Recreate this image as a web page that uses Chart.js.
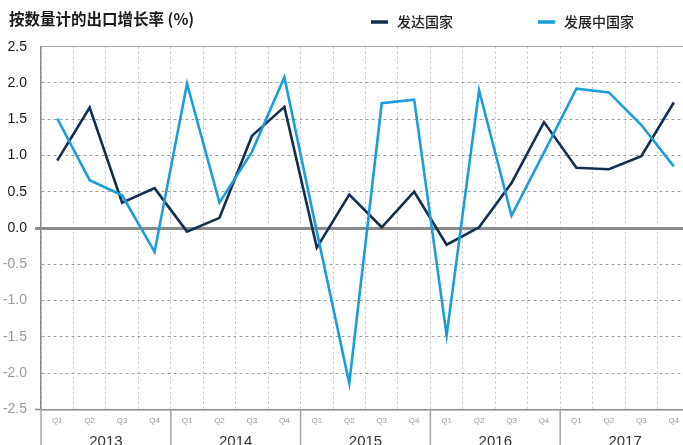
<!DOCTYPE html>
<html>
<head>
<meta charset="utf-8">
<script src="https://cdn.jsdelivr.net/npm/chart.js@4.4.0/dist/chart.umd.min.js"></script>
<style>
  html, body { margin: 0; padding: 0; background: #ffffff; overflow: hidden; }
  #wrap { width: 683px; height: 445px; overflow: hidden; position: relative; }
  canvas { display: block; }
</style>
</head>
<body>
<div id="wrap"><canvas id="c" width="690" height="445"></canvas></div>
<script>
const titleText = '按数量计的出口增长率 (%)';
const years = ['2013', '2014', '2015', '2016', '2017'];
const quarterNames = ['Q1', 'Q2', 'Q3', 'Q4'];
const quarterLabels = [
  'Q1','Q2','Q3','Q4', 'Q1','Q2','Q3','Q4', 'Q1','Q2','Q3','Q4',
  'Q1','Q2','Q3','Q4', 'Q1','Q2','Q3','Q4'
];
const seriesNames = ['发达国家', '发展中国家'];
const developed = [
  0.93, 1.66, 0.35, 0.55,
  -0.05, 0.14, 1.27, 1.67,
  -0.27, 0.46, 0.01, 0.50,
  -0.23, 0.01, 0.62, 1.46,
  0.83, 0.81, 0.99, 1.73
];
const developing = [
  1.51, 0.66, 0.45, -0.33,
  1.99, 0.35, 1.05, 2.08,
  -0.05, -2.14, 1.72, 1.77,
  -1.48, 1.90, 0.17, 1.04,
  1.92, 1.87, 1.42, 0.85
];
const yTicksMin = -2.5, yTicksMax = 2.5, yStep = 0.5;

const DARK = '#132f4f';
const LIGHT = '#1b9dd9';
const CJK = '"Noto Sans CJK SC", "Noto Sans", sans-serif';
const LAT = '"Liberation Sans", Arial, sans-serif';

const isV = (v, t) => Math.abs(v - t) < 1e-9;

const decor = {
  id: 'decor',
  afterDraw(chart) {
    const ctx = chart.ctx;
    const xs = chart.scales.x;
    const area = chart.chartArea;
    const H = chart.height;
    ctx.save();
    // year separators below the axis
    ctx.strokeStyle = '#a8a8a8';
    ctx.lineWidth = 1.5;
    const bounds = [area.left];
    for (let k = 1; k < years.length; k++) {
      bounds.push((xs.getPixelForValue(4 * k - 1) + xs.getPixelForValue(4 * k)) / 2);
    }
    bounds.forEach(x => {
      ctx.beginPath();
      ctx.moveTo(x, area.bottom);
      ctx.lineTo(x, H);
      ctx.stroke();
    });
    // year labels
    ctx.fillStyle = '#333333';
    ctx.font = '15px ' + LAT;
    ctx.textAlign = 'center';
    ctx.textBaseline = 'middle';
    years.forEach((y, k) => {
      const cx = (xs.getPixelForValue(4 * k) + xs.getPixelForValue(4 * k + 3)) / 2;
      ctx.fillText(y, cx, 442);
    });
    // title
    ctx.textAlign = 'left';
    ctx.fillStyle = '#1a1a1a';
    ctx.font = 'bold 15.5px ' + CJK;
    ctx.fillText(titleText, 9, 19);
    // legend
    const items = [
      { x: 371, color: DARK, text: seriesNames[0] },
      { x: 538, color: LIGHT, text: seriesNames[1] }
    ];
    items.forEach(it => {
      ctx.strokeStyle = it.color;
      ctx.lineWidth = 3.5;
      ctx.beginPath();
      ctx.moveTo(it.x, 22);
      ctx.lineTo(it.x + 17, 22);
      ctx.stroke();
      ctx.fillStyle = '#1f1f1f';
      ctx.font = '500 14px ' + CJK;
      ctx.fillText(it.text, it.x + 26, 22);
    });
    ctx.restore();
  }
};

new Chart(document.getElementById('c'), {
  type: 'line',
  data: {
    labels: quarterLabels,
    datasets: [
      {
        label: seriesNames[1],
        data: developing,
        borderColor: LIGHT,
        backgroundColor: LIGHT,
        borderWidth: 2.6,
        pointRadius: 0,
        tension: 0,
        fill: false
      },
      {
        label: seriesNames[0],
        data: developed,
        borderColor: DARK,
        backgroundColor: DARK,
        borderWidth: 2.6,
        pointRadius: 0,
        tension: 0,
        fill: false
      }
    ]
  },
  options: {
    responsive: false,
    animation: false,
    devicePixelRatio: 1,
    layout: { padding: { top: 46.7, right: 0, bottom: 0, left: 0 } },
    plugins: {
      legend: { display: false },
      title: { display: false },
      tooltip: { enabled: false }
    },
    scales: {
      x: {
        type: 'category',
        offset: true,
        grid: {
          offset: true,
          color: '#c2c2c2',
          lineWidth: 1,
          drawTicks: false
        },
        border: { display: true, color: '#8a8a8a', width: 1.5, dash: [2, 3] },
        ticks: {
          color: '#9a9a9a',
          font: { size: 8, family: LAT },
          padding: 7,
          maxRotation: 0,
          autoSkip: false
        },
        afterFit(s) { s.height = 35.7; }
      },
      y: {
        min: yTicksMin,
        max: yTicksMax,
        ticks: {
          stepSize: yStep,
          callback: v => Number(v).toFixed(1),
          color: c => (c.tick.value >= -1e-9 ? '#1a1a1a' : '#9a9a9a'),
          font: { size: 14, family: LAT },
          padding: 8
        },
        grid: {
          color: c => {
            const v = c.tick.value;
            if (isV(v, 0)) return '#8a8a8a';
            if (isV(v, -2.5)) return 'rgba(0,0,0,0)';
            if (isV(v, 2.5)) return '#a6a6a6';
            return '#9e9e9e';
          },
          lineWidth: c => (isV(c.tick.value, 0) ? 3 : 1),
          drawTicks: true,
          tickLength: 6,
          tickColor: c => {
            const v = c.tick.value;
            return (isV(v, 0) || isV(v, -2.5)) ? '#8a8a8a' : 'rgba(0,0,0,0)';
          },
          tickWidth: c => (isV(c.tick.value, 0) ? 3 : 1.5)
        },
        border: {
          display: true,
          color: '#8a8a8a',
          width: 1.5,
          dash: c => {
            if (!c.tick) return [];
            const v = c.tick.value;
            return (isV(v, 0) || isV(v, 2.5) || isV(v, -2.5)) ? [] : [3, 3];
          }
        },
        afterFit(s) { s.width = 41; }
      }
    }
  },
  plugins: [decor]
});
</script>
</body>
</html>
